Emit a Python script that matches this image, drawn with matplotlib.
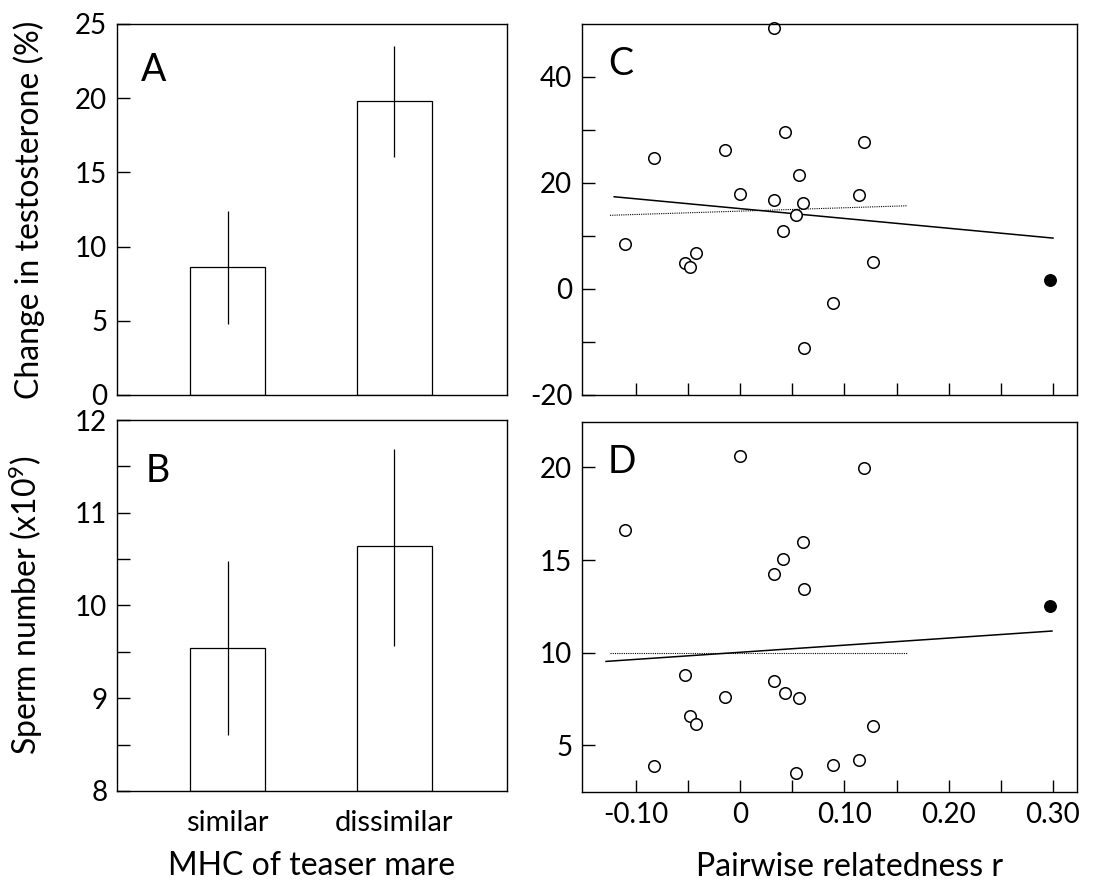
import matplotlib
matplotlib.use("Agg")
import matplotlib.pyplot as plt

plt.rcParams['font.family'] = ['Lato', 'DejaVu Sans']
plt.rcParams['axes.unicode_minus'] = False
plt.rcParams['mathtext.fontset'] = 'custom'
plt.rcParams['mathtext.rm'] = 'Lato'
plt.rcParams['mathtext.default'] = 'regular'

# panels A and B: bar means with error bars
groups = ["similar", "dissimilar"]
testo_mean = [8.6, 19.8]
testo_err = [3.8, 3.75]
sperm_mean = [9.54, 10.64]
sperm_lo = [8.60, 9.56]
sperm_hi = [10.48, 11.69]

# panels C and D: pairwise relatedness per stallion (open circles)
relatedness = [-0.1106, -0.0829, -0.0526, -0.0481, -0.0424, -0.0149, 0.0, 0.0322, 0.0329,
               0.0409, 0.0428, 0.054, 0.0565, 0.0603, 0.0616, 0.0887, 0.1139, 0.119, 0.127]
testo_change = [8.4, 24.7, 4.9, 4.2, 6.7, 26.3, 18.0, 16.8, 49.2,
                11.0, 29.7, 13.9, 21.5, 16.2, -11.2, -2.65, 17.8, 27.8, 5.0]
sperm_num = [16.63, 3.90, 8.81, 6.58, 6.17, 7.59, 20.61, 14.26, 8.48,
             15.04, 7.80, 3.51, 7.55, 15.98, 13.43, 3.94, 4.21, 19.95, 6.04]
# outlier (filled circle)
out_r = 0.2967
out_testo = 1.76
out_sperm = 12.53

# fitted lines (endpoints)
fitC_x, fitC_y = [-0.1207, 0.30], [17.4, 9.6]
dotC_x, dotC_y = [-0.1247, 0.160], [13.9, 15.7]
fitD_x, fitD_y = [-0.1285, 0.299], [9.53, 11.17]
dotD_x, dotD_y = [-0.1247, 0.160], [10.0, 10.0]

# tick labels
testo_ticks = [0, 5, 10, 15, 20, 25]
sperm_ticks = [8, 8.5, 9, 9.5, 10, 10.5, 11, 11.5, 12]
sperm_labels = ["8", "", "9", "", "10", "", "11", "", "12"]
c_ticks = [-20, -10, 0, 10, 20, 30, 40]
c_labels = ["-20", "", "0", "", "20", "", "40"]
d_ticks = [5, 10, 15, 20]
r_ticks = [-0.10, -0.05, 0, 0.05, 0.10, 0.15, 0.20, 0.25, 0.30]
r_labels = ["-0.10", "", "0", "", "0.10", "", "0.20", "", "0.30"]

TICK = 20
LAB = 23
LET = 27

fig = plt.figure(figsize=(11.08, 8.82), dpi=100)
axA = fig.add_axes([0.1056, 0.5522, 0.352, 0.4206])
axB = fig.add_axes([0.1056, 0.1032, 0.352, 0.4206])
axC = fig.add_axes([0.5253, 0.5522, 0.4467, 0.4206])
axD = fig.add_axes([0.5253, 0.1020, 0.4467, 0.4195])

for ax in (axA, axB, axC, axD):
    for s in ax.spines.values():
        s.set_linewidth(1.0)
    ax.tick_params(direction='in', length=9, width=1.0, labelsize=TICK, pad=7,
                   top=False, right=False)

pos = [1, 2]

# A
axA.bar(pos, testo_mean, width=0.45, color='white', edgecolor='black', linewidth=0.9)
axA.errorbar(pos, testo_mean, yerr=testo_err, fmt='none', ecolor='black', elinewidth=0.9, capsize=0)
axA.set_xlim(0.338, 2.674)
axA.set_ylim(0, 25)
axA.set_yticks(testo_ticks)
axA.set_xticks([])
axA.set_ylabel("Change in testosterone (%)", fontsize=LAB)
axA.yaxis.set_label_coords(-0.185, 0.5)
axA.text(0.06, 0.925, "A", transform=axA.transAxes, fontsize=LET, va='top')

# B
yerr_b = [[m - l for m, l in zip(sperm_mean, sperm_lo)], [h - m for m, h in zip(sperm_mean, sperm_hi)]]
axB.bar(pos, [m - 8 for m in sperm_mean], bottom=8, width=0.45, color='white',
        edgecolor='black', linewidth=0.9)
axB.errorbar(pos, sperm_mean, yerr=yerr_b, fmt='none', ecolor='black', elinewidth=0.9, capsize=0)
axB.set_xlim(0.338, 2.674)
axB.set_ylim(8, 12)
axB.set_yticks(sperm_ticks)
axB.set_yticklabels(sperm_labels)
axB.set_xticks(pos)
axB.set_xticklabels(groups, fontsize=21)
axB.tick_params(axis='x', length=0, pad=14)
axB.set_ylabel("Sperm number (x10$^9$)", fontsize=LAB)
axB.yaxis.set_label_coords(-0.185, 0.5)
axB.set_xlabel("MHC of teaser mare", fontsize=LAB)
axB.xaxis.label.set_va('baseline')
axB.xaxis.set_label_coords(0.5, -0.226)
axB.text(0.074, 0.91, "B", transform=axB.transAxes, fontsize=LET, va='top')

# C
axC.plot(dotC_x, dotC_y, color='black', linestyle=(0, (1, 1)), linewidth=0.8)
axC.plot(fitC_x, fitC_y, color='black', linewidth=1.1)
axC.plot(relatedness, testo_change, 'o', mfc='white', mec='black', ms=8.3, mew=1.1, clip_on=False)
axC.plot([out_r], [out_testo], 'o', color='black', ms=8.3)
axC.set_xlim(-0.1515, 0.323)
axC.set_ylim(-20, 50)
axC.set_yticks(c_ticks)
axC.set_yticklabels(c_labels)
axC.set_xticks(r_ticks)
axC.set_xticklabels([])
axC.text(0.052, 0.94, "C", transform=axC.transAxes, fontsize=LET, va='top')

# D
axD.plot(dotD_x, dotD_y, color='black', linestyle=(0, (1, 1)), linewidth=0.8)
axD.plot(fitD_x, fitD_y, color='black', linewidth=1.1)
axD.plot(relatedness, sperm_num, 'o', mfc='white', mec='black', ms=8.3, mew=1.1)
axD.plot([out_r], [out_sperm], 'o', color='black', ms=8.3)
axD.set_xlim(-0.1515, 0.323)
axD.set_ylim(2.48, 22.45)
axD.set_yticks(d_ticks)
axD.set_xticks(r_ticks)
axD.set_xticklabels(r_labels)
axD.set_xlabel("Pairwise relatedness r", fontsize=LAB)
axD.xaxis.label.set_va('baseline')
axD.xaxis.set_label_coords(0.54, -0.226)
axD.text(0.052, 0.94, "D", transform=axD.transAxes, fontsize=LET, va='top')

fig.savefig("out.png", dpi=100)
